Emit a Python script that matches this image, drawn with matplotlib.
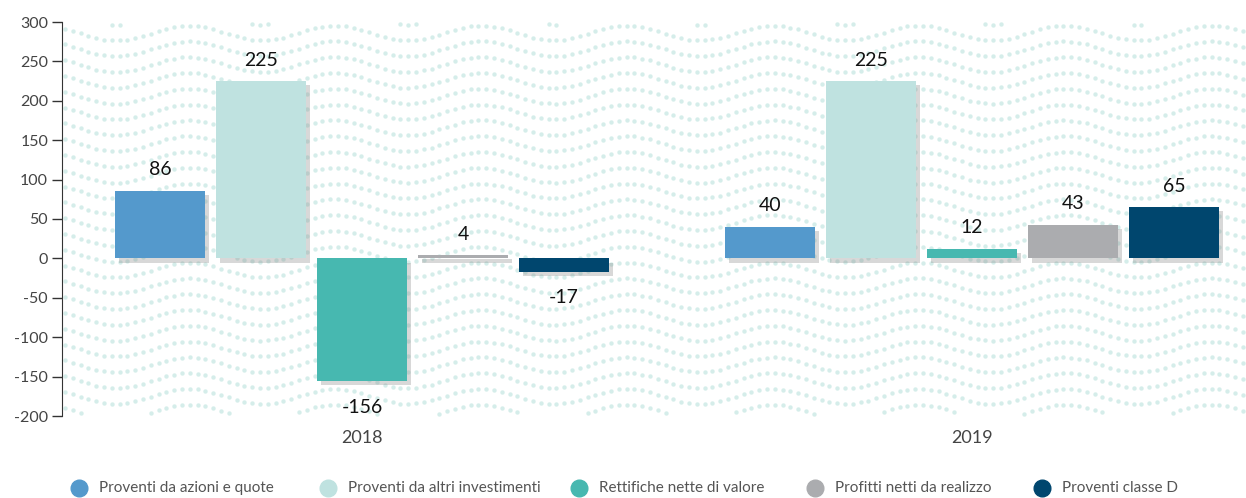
import numpy as np
import matplotlib
matplotlib.use("Agg")
import matplotlib.pyplot as plt
import matplotlib.patheffects as pe

plt.rcParams['font.family'] = ['Lato', 'DejaVu Sans']

years = ["2018", "2019"]
series = ["Proventi da azioni e quote", "Proventi da altri investimenti",
          "Rettifiche nette di valore", "Profitti netti da realizzo", "Proventi classe D"]
values = {
    "Proventi da azioni e quote": [86, 40],
    "Proventi da altri investimenti": [225, 225],
    "Rettifiche nette di valore": [-156, 12],
    "Profitti netti da realizzo": [4, 43],
    "Proventi classe D": [-17, 65],
}
colors = ["#5499CC", "#BFE2E0", "#47B8B0", "#ABACAF", "#00466E"]
yticks = [-200, -150, -100, -50, 0, 50, 100, 150, 200, 250, 300]

W, H = 1246, 498
fig = plt.figure(figsize=(W / 100, H / 100), dpi=100)
rect = [62 / W, 1 - 416 / H, 1 - 62 / W, (416 - 22) / H]

# decorative dotted wave background
bg = fig.add_axes(rect, zorder=0)
bw, bh = W - 62, 416 - 22
bg.set_xlim(0, bw)
bg.set_ylim(0, bh)
bg.axis("off")
xs = np.arange(3, bw, 7.8)
for y0 in np.arange(-12, bh + 20, 15.8):
    ys = y0 - 7.5 * np.cos(2 * np.pi * (xs - 638) / 146.0)
    m = (ys > 2) & (ys < bh - 2)
    bg.scatter(xs[m], ys[m], s=10, color="#D5EDEA", linewidths=0)

ax = fig.add_axes(rect, zorder=1)
ax.patch.set_alpha(0)

spacing = 0.1656
width = 0.1475
x = np.arange(len(years))
shadow = [pe.SimplePatchShadow(offset=(3, -3), shadow_rgbFace="#808080", alpha=0.3), pe.Normal()]
for i, (name, c) in enumerate(zip(series, colors)):
    vals = values[name]
    pos = x + (i - 2) * spacing
    ax.bar(pos, vals, width=width, color=c, zorder=3, path_effects=shadow)
    for p, v in zip(pos, vals):
        if v >= 0:
            ax.annotate(str(v), (p, v), xytext=(0, 9), textcoords="offset points",
                        ha="center", va="bottom", fontsize=14, color="#111111")
        else:
            ax.annotate(str(v), (p, v), xytext=(0, -12.5), textcoords="offset points",
                        ha="center", va="top", fontsize=14, color="#111111")

ax.set_xlim(-0.492, 1.449)
ax.set_ylim(-200, 300)
ax.set_yticks(yticks)
ax.set_yticklabels([str(t) for t in yticks], fontsize=11.5, color="#444444")
ax.set_xticks(x)
ax.set_xticklabels(years, fontsize=13, color="#444444")
ax.tick_params(axis="x", length=0, pad=10)
ax.tick_params(axis="y", length=7, width=1, color="#333333", pad=3)
for s in ["top", "right", "bottom"]:
    ax.spines[s].set_visible(False)
ax.spines["left"].set_color("#333333")

# legend laid out like the reference
leg_x = [79, 328, 579, 815, 1042]
leg_y = 1 - 488 / H
for lx, name, c in zip(leg_x, series, colors):
    fig.lines.append(plt.Line2D([lx / W], [leg_y], marker="o", markersize=12, color=c,
                                linestyle="", transform=fig.transFigure))
    fig.text((lx + 20) / W, leg_y, name, ha="left", va="center", fontsize=11, color="#555555")

fig.savefig("out.png", dpi=100)
